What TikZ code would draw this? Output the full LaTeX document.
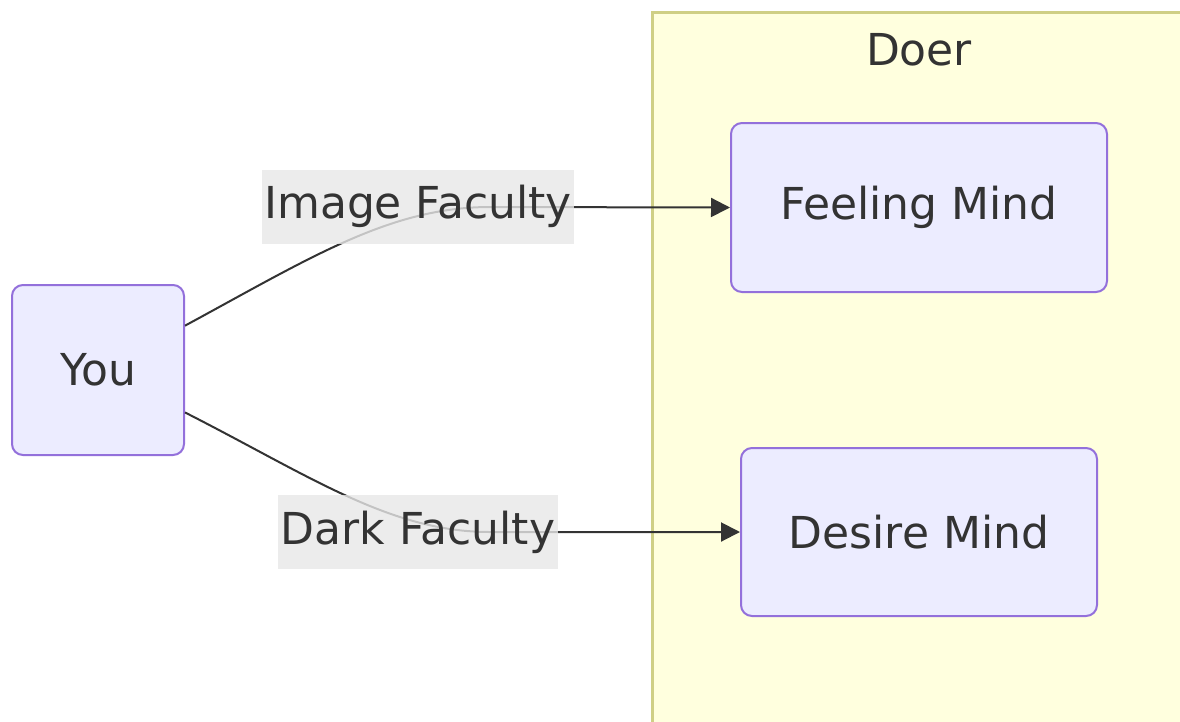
\documentclass[tikz,border=0pt]{standalone}
\usepackage{fontspec}
\setmainfont{DejaVu Sans}
\usetikzlibrary{arrows.meta}
\definecolor{nodefill}{HTML}{ECECFF}
\definecolor{nodeline}{HTML}{9370DB}
\definecolor{clusterfill}{HTML}{FFFFDE}
\definecolor{clusterline}{HTML}{CFCF85}
\definecolor{edgeline}{HTML}{333333}
\definecolor{labelfill}{HTML}{E8E8E8}
\definecolor{textcol}{HTML}{333333}
\begin{document}
\begin{tikzpicture}[x=1pt,y=-1pt,
  every node/.style={text=textcol, font=\fontsize{44}{52}\selectfont},
  mnode/.style={draw=nodeline, fill=nodefill, line width=2pt, rounded corners=11pt, inner sep=0pt},
  elabel/.style={fill=labelfill, fill opacity=0.8, text opacity=1, inner sep=0pt, minimum height=74pt},
  edge/.style={draw=edgeline, line width=2pt, -{Triangle[length=19pt,width=19pt]}}
]
\useasboundingbox (0,0) rectangle (1180,721);
\fill[white] (0,0) rectangle (1180,721);
% cluster
\draw[fill=clusterfill, draw=clusterline, line width=3pt] (652,12) rectangle (1210,760);
\node (doer) at (919,50) {Doer};
% nodes
\node[mnode, minimum width=172pt, minimum height=170pt] (you) at (98,370) {You};
\node[mnode, minimum width=376pt, minimum height=169pt] (feel) at (919,207.5) {Feeling Mind};
\node[mnode, minimum width=356pt, minimum height=168pt] (desire) at (919,532) {Desire Mind};
% label anchors
\coordinate (c1) at (490,207);
\coordinate (c2) at (490,532);
% edges
\draw[edge] (you.27.6) .. controls (310,258) and (390,207) .. (c1) -- (feel.west);
\draw[edge] (you.-26.6) .. controls (310,476) and (390,532) .. (c2) -- (desire.west);
% edge labels
\node[elabel, minimum width=312pt] (l1) at (418,206.5) {Image Faculty};
\node[elabel, minimum width=280pt] (l2) at (418,532) {Dark Faculty};
\end{tikzpicture}
\end{document}
